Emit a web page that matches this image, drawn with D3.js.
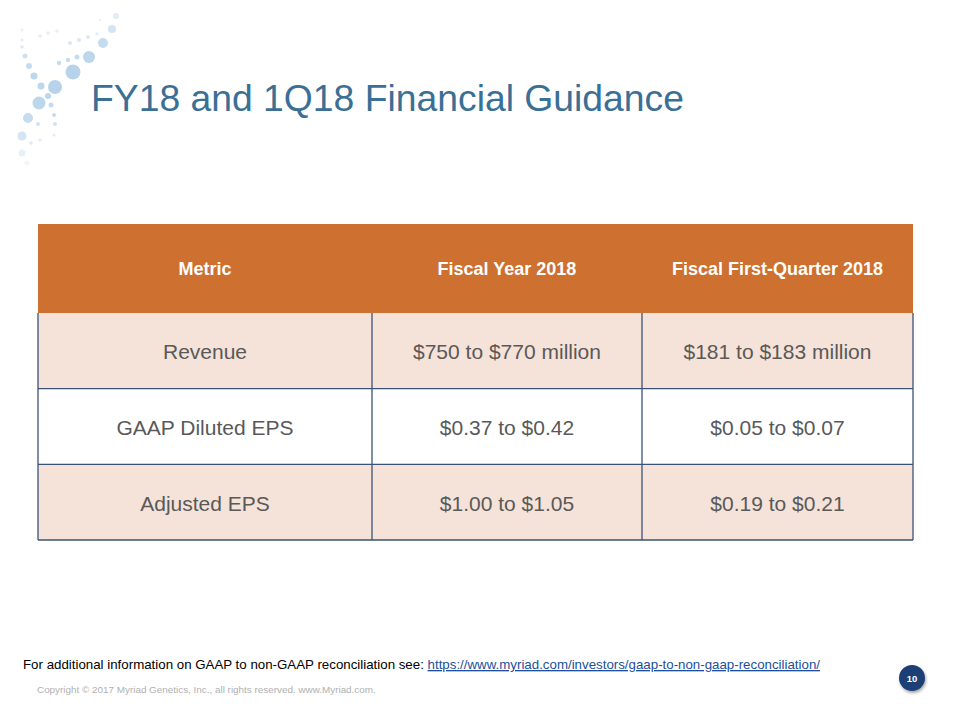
<!DOCTYPE html>
<html><head><meta charset="utf-8">
<script src="https://cdn.jsdelivr.net/npm/d3@7"></script>
<style>html,body{margin:0;padding:0;background:#fff;}svg{display:block;}</style>
</head><body>
<svg id="chart" width="960" height="720"></svg>
<script>
const title = "FY18 and 1Q18 Financial Guidance";
const columns = ["Metric", "Fiscal Year 2018", "Fiscal First-Quarter 2018"];
const metrics = ["Revenue", "GAAP Diluted EPS", "Adjusted EPS"];
const fiscalYear2018 = ["$750 to $770 million", "$0.37 to $0.42", "$1.00 to $1.05"];
const firstQuarter2018 = ["$181 to $183 million", "$0.05 to $0.07", "$0.19 to $0.21"];
const footnote = "For additional information on GAAP to non-GAAP reconciliation see: ";
const footLink = "https://www.myriad.com/investors/gaap-to-non-gaap-reconciliation/";
const copyright = "Copyright \u00A9 2017 Myriad Genetics, Inc., all rights reserved.  www.Myriad.com.";
const pageNum = "10";

const svg = d3.select("#chart");
const font = "'Liberation Sans', Arial, sans-serif";

// decorative logo dots [x, y, r, opacity]
const dots = [
  [73,72,7.5,0.75],[89,57,6,0.7],[103,43,5,0.6],[112,29,4,0.45],[116,16,3,0.3],
  [55,87,7,0.75],[39,103,6.5,0.7],[28,118,5,0.6],[22,136,4.5,0.45],[22,153,3.5,0.25],
  [25,56,2.5,0.5],[29,66,3,0.6],[34,76,3.5,0.7],[41,86,3.5,0.7],[48,96,3,0.7],[51,105,2.5,0.6],
  [54,115,2,0.6],[55,124,2,0.5],[38,124,2,0.5],[31,143,1.8,0.35],[40,140,1.8,0.3],[54,135,1.5,0.3],
  [59,63,2.2,0.6],[68,60,2.2,0.6],[77,57,2.5,0.6],
  [70,43,2,0.4],[79,40,2,0.4],[88,37,2,0.35],[97,34,1.8,0.3],
  [40,36,1.8,0.3],[48,33,1.8,0.3],[57,31,1.8,0.25],
  [22,30,1.5,0.25],[22,40,1.5,0.3],[22,47,1.8,0.35],[100,20,1.5,0.2],[27,163,2.5,0.15]
];
svg.append("g").selectAll("circle").data(dots).join("circle")
  .attr("cx", d => d[0]).attr("cy", d => d[1]).attr("r", d => d[2])
  .attr("fill", "#9fc4e4").attr("fill-opacity", d => d[3]);

svg.append("text").attr("x", 91).attr("y", 111)
  .attr("font-family", font).attr("font-size", 37.3).attr("fill", "#3a6f96")
  .text(title);

const colEdges = [38, 372, 642, 913];
const headerTop = 224, headerBottom = 313, tableBottom = 540;
const y = d3.scaleBand().domain(metrics).range([headerBottom, tableBottom]);
const cols = [metrics, fiscalYear2018, firstQuarter2018];

const g = svg.append("g");
g.append("rect").attr("x", colEdges[0]).attr("y", headerTop)
  .attr("width", colEdges[3] - colEdges[0]).attr("height", headerBottom - headerTop)
  .attr("fill", "#cd7030");
columns.forEach((c, i) => {
  g.append("text").attr("x", (colEdges[i] + colEdges[i+1]) / 2).attr("y", 275)
    .attr("text-anchor", "middle").attr("font-family", font).attr("font-weight", "bold")
    .attr("font-size", 18).attr("fill", "#ffffff").text(c);
});

metrics.forEach((m, r) => {
  g.append("rect").attr("x", colEdges[0]).attr("y", y(m))
    .attr("width", colEdges[3] - colEdges[0]).attr("height", y.bandwidth())
    .attr("fill", r % 2 === 0 ? "#f5e2d8" : "#ffffff");
  cols.forEach((col, i) => {
    g.append("text").attr("x", (colEdges[i] + colEdges[i+1]) / 2).attr("y", y(m) + y.bandwidth() / 2 + 8.5)
      .attr("text-anchor", "middle").attr("font-family", font)
      .attr("font-size", 21).attr("fill", "#595959").text(col[r]);
  });
});

const stroke = "#3b5278";
metrics.forEach((m, r) => {
  if (r > 0) g.append("line").attr("x1", colEdges[0]).attr("x2", colEdges[3]).attr("y1", y(m)).attr("y2", y(m))
    .attr("stroke", stroke).attr("stroke-width", 1.3);
});
g.append("line").attr("x1", colEdges[0]).attr("x2", colEdges[3]).attr("y1", tableBottom).attr("y2", tableBottom)
  .attr("stroke", stroke).attr("stroke-width", 1.3);
colEdges.forEach(cx => {
  g.append("line").attr("x1", cx).attr("x2", cx).attr("y1", headerBottom).attr("y2", tableBottom)
    .attr("stroke", stroke).attr("stroke-width", 1.3);
});

const ft = svg.append("text").attr("x", 23).attr("y", 669).attr("font-family", font).attr("font-size", 13.3).attr("fill", "#000");
ft.append("tspan").text(footnote);
ft.append("tspan").attr("fill", "#1d4f9c").attr("text-decoration", "underline").text(footLink);

svg.append("text").attr("x", 37).attr("y", 693).attr("font-family", font).attr("font-size", 9.9)
  .attr("fill", "#b0b0b0").text(copyright);

const defs = svg.append("defs");
const f = defs.append("filter").attr("id", "sh").attr("x", "-50%").attr("y", "-50%").attr("width", "200%").attr("height", "200%");
f.append("feDropShadow").attr("dx", 1).attr("dy", 2).attr("stdDeviation", 1.5).attr("flood-color", "#000").attr("flood-opacity", 0.35);
svg.append("circle").attr("cx", 912).attr("cy", 678).attr("r", 13).attr("fill", "#1e3f74").attr("filter", "url(#sh)");
svg.append("text").attr("x", 912).attr("y", 681.5).attr("text-anchor", "middle").attr("font-family", font)
  .attr("font-weight", "bold").attr("font-size", 9.5).attr("fill", "#fff").text(pageNum);
</script>
</body></html>
